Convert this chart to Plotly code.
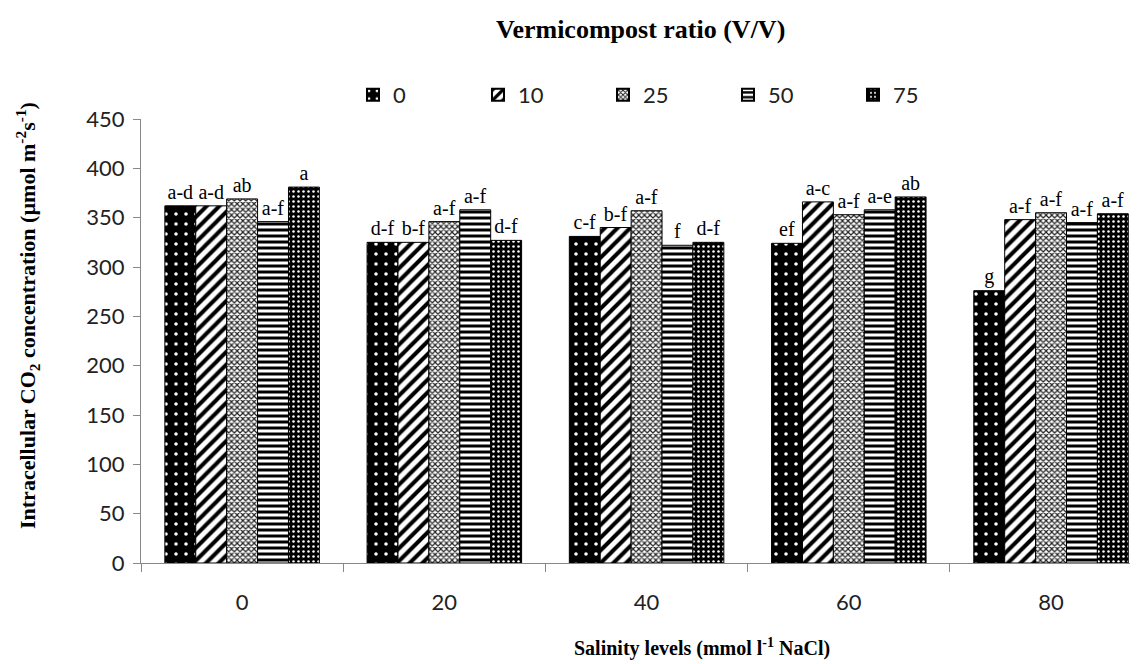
import plotly.graph_objects as go

categories = ["0", "20", "40", "60", "80"]
series_names = ["0", "10", "25", "50", "75"]
values = {
    "0":  [362, 325, 331, 324, 276],
    "10": [362, 325, 340, 366, 348],
    "25": [369, 346, 357, 353, 355],
    "50": [346, 358, 322, 358, 345],
    "75": [381, 327, 325, 371, 354],
}
letters = {
    "0":  ["a-d", "d-f", "c-f", "ef", "g"],
    "10": ["a-d", "b-f", "b-f", "a-c", "a-f"],
    "25": ["ab", "a-f", "a-f", "a-f", "a-f"],
    "50": ["a-f", "a-f", "f", "a-e", "a-f"],
    "75": ["a", "d-f", "d-f", "ab", "a-f"],
}

patterns = {
    "0":  dict(shape=".", bgcolor="black", fgcolor="white", size=10, solidity=0.1, fillmode="replace"),
    "10": dict(shape="/", bgcolor="white", fgcolor="black", size=9, solidity=0.45, fillmode="replace"),
    "25": dict(shape="x", bgcolor="white", fgcolor="#222", size=4, solidity=0.5, fillmode="replace"),
    "50": dict(shape="-", bgcolor="white", fgcolor="black", size=6, solidity=0.5, fillmode="replace"),
    "75": dict(shape=".", bgcolor="black", fgcolor="white", size=5, solidity=0.2, fillmode="replace"),
}

# page body has an 8px default margin: work in screenshot pixels and shift
OFF = 8
W, H = 1138 - OFF, 664 - OFF
PL, PR, PT, PB = 141 - OFF, 1138 - OFF, 119 - OFF, 563 - OFF

def px(xs):
    return (xs - OFF - PL) / (PR - PL)

def py(ys):
    return (PB - (ys - OFF)) / (PB - PT)

fig = go.Figure()
for s in series_names:
    fig.add_trace(go.Bar(
        name=s, x=categories, y=values[s],
        text=letters[s], textposition="outside",
        textfont=dict(family="Liberation Serif", size=20, color="black"),
        cliponaxis=False,
        marker=dict(color="black", pattern=patterns[s], line=dict(color="black", width=1)),
    ))

fig.update_layout(
    width=W, height=H,
    paper_bgcolor="white", plot_bgcolor="white",
    margin=dict(l=PL, r=W - PR, t=PT, b=H - PB, autoexpand=False),
    barmode="group", bargap=0.236, bargroupgap=0,
    font=dict(family="Lato", size=22, color="#222"),
    showlegend=True,
    legend=dict(orientation="h", x=px(353), y=py(95), xanchor="left", yanchor="middle",
                entrywidth=80, entrywidthmode="pixels", itemwidth=30,
                font=dict(family="Lato", size=22, color="#222"),
                itemsizing="constant", bgcolor="rgba(0,0,0,0)"),
    annotations=[
        dict(text="<b>Vermicompost ratio (V/V)</b>", x=px(640), y=py(30), xref="paper", yref="paper",
             xanchor="center", yanchor="middle", showarrow=False,
             font=dict(family="Liberation Serif", size=26, color="black")),
        dict(text="<b>Salinity levels (mmol l<sup>-1</sup> NaCl)</b>", x=px(702), y=py(647),
             xref="paper", yref="paper", xanchor="center", yanchor="middle", showarrow=False,
             font=dict(family="Liberation Serif", size=20, color="black")),
        dict(text="<b>Intracellular CO<sub>2</sub> concentration (µmol m<sup>-2</sup>s<sup>-1</sup>)</b>",
             x=px(27), y=py(316), xref="paper", yref="paper", xanchor="center", yanchor="middle",
             textangle=-90, showarrow=False,
             font=dict(family="Liberation Serif", size=22, color="black")),
    ],
)

fig.update_yaxes(
    range=[0, 450], dtick=50, showgrid=False, zeroline=False, automargin=False,
    showline=True, linecolor="#888", linewidth=1, ticks="outside", ticklen=7, tickcolor="#888",
    tickfont=dict(family="Lato", size=22, color="#222"), ticklabelstandoff=4,
)
fig.update_xaxes(
    type="category", range=[-0.5, 4.43], showgrid=False, zeroline=False, automargin=False,
    showline=True, linecolor="#888", linewidth=1, ticks="outside", ticklen=8, tickcolor="#888",
    tickson="boundaries", ticklabelstandoff=20,
    tickfont=dict(family="Lato", size=22, color="#222"),
)

fig.write_html("out.html")
